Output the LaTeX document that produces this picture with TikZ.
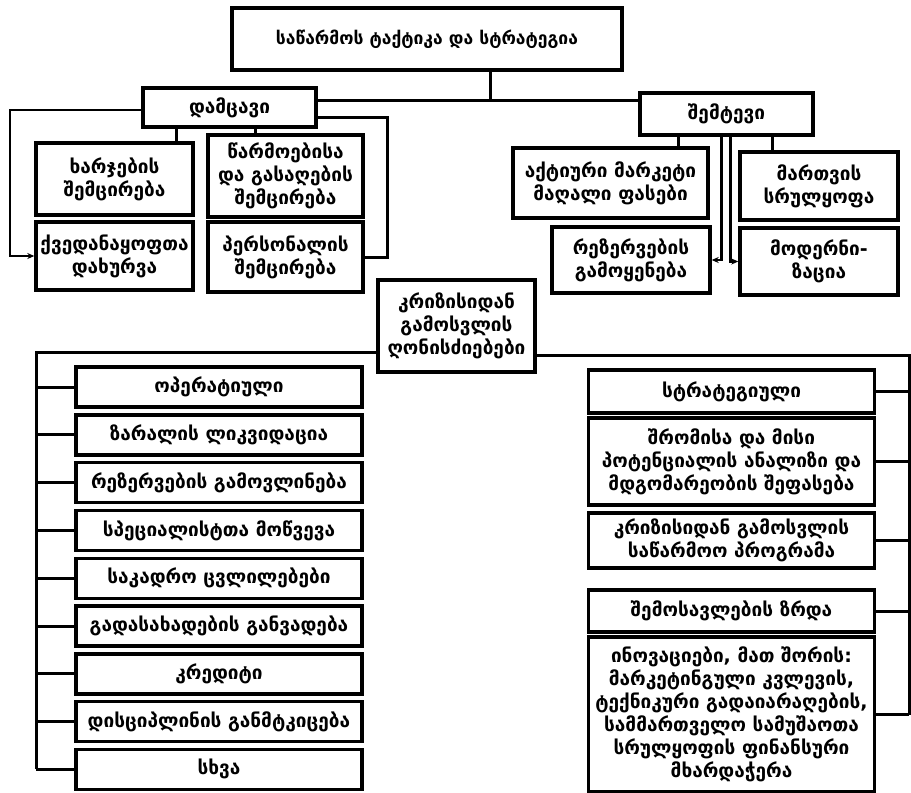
\documentclass[tikz,border=0pt]{standalone}
\usepackage{fontspec}
\setmainfont{DejaVu Sans}
\usetikzlibrary{arrows.meta}

\begin{document}
\begin{tikzpicture}[x=1pt,y=-1pt,
    box/.style={draw, line width=3.4pt, align=center, inner sep=0pt,
        font=\bfseries\fontsize{19}{23}\selectfont},
    listbox/.style={box, minimum width=286, minimum height=40},
    con/.style={line width=3pt},
    arr/.style={line width=2.4pt, -{Stealth[length=7pt,width=6pt]}}]
    \useasboundingbox (0,0) rectangle (911,793);

    % top level
    \node[box, minimum width=390, minimum height=62,
        font=\bfseries\fontsize{17.5}{22}\selectfont] (top) at (427,39) {საწარმოს ტაქტიკა და სტრატეგია};
    \node[box, minimum width=173, minimum height=39] (dam) at (229.5,107.5) {დამცავი};
    \node[box, minimum width=173, minimum height=42] (shem) at (726.5,114) {შემტევი};

    % defensive
    \node[box, minimum width=157, minimum height=72] (xarj) at (114.5,179) {ხარჯების\\შემცირება};
    \node[box, minimum width=155, minimum height=82] (warm) at (285.5,176) {წარმოებისა\\და გასაღების\\შემცირება};
    \node[box, minimum width=157, minimum height=68] (kved) at (114.5,256) {ქვედანაყოფთა\\დახურვა};
    \node[box, minimum width=155, minimum height=70] (pers) at (285.5,257) {პერსონალის\\შემცირება};

    % offensive
    \node[box, minimum width=195, minimum height=70] (aqt) at (610.5,183) {აქტიური მარკეტი\\მაღალი ფასები};
    \node[box, minimum width=158, minimum height=68] (mart) at (819,186) {მართვის\\სრულყოფა};
    \node[box, minimum width=158, minimum height=66] (rez) at (631,260) {რეზერვების\\გამოყენება};
    \node[box, minimum width=158, minimum height=67] (mod) at (819,261.5) {მოდერნი-\\ზაცია};

    % measures
    \node[box, minimum width=157, minimum height=92] (kriz) at (456.5,326) {კრიზისიდან\\გამოსვლის\\ღონისძიებები};

    \foreach \txt [count=\i] in {ოპერატიული, ზარალის ლიკვიდაცია, რეზერვების გამოვლინება,
        სპეციალისტთა მოწვევა, საკადრო ცვლილებები, გადასახადების განვადება,
        კრედიტი, დისციპლინის განმტკიცება, სხვა}
        \node[listbox] (op\i) at (219,{387+47.8*(\i-1)}) {\txt};

    \node[listbox, minimum height=43] (st1) at (731.5,391.5) {სტრატეგიული};
    \node[listbox, minimum height=87] (st2) at (731.5,461.5) {შრომისა და მისი\\პოტენციალის ანალიზი და\\მდგომარეობის შეფასება};
    \node[listbox, minimum height=55] (st3) at (731.5,540.5) {კრიზისიდან გამოსვლის\\საწარმოო პროგრამა};
    \node[listbox, minimum height=42] (st4) at (731.5,611) {შემოსავლების ზრდა};
    \node[listbox, minimum height=155] (st5) at (731.5,714.5) {ინოვაციები, მათ შორის:\\მარკეტინგული კვლევის,\\ტექნიკური გადაიარაღების,\\სამმართველო სამუშაოთა\\სრულყოფის ფინანსური\\მხარდაჭერა};

    % connectors
    \coordinate (j) at (490,100);
    \coordinate (dl) at (10,110);
    \coordinate (dr) at (387,117);
    \coordinate (lt) at (36,352);
    \coordinate (rt) at (909,355);

    \draw[con] (top.south -| j) -- (j);
    \draw[con] (j -| dam.east) -- (j -| shem.west);
    \draw[arr] (dl -| dam.west) -- (dl) |- (kved.west);
    \draw[con] (dr -| dam.east) -- (dr) |- (pers.east);
    \draw[con] ([xshift=-53pt]dam.south) -- ([xshift=-53pt]dam.south |- xarj.north);
    \draw[con] ([xshift=26pt]dam.south) -- ([xshift=26pt]dam.south |- warm.north);

    \draw[con] ([xshift=-48pt]shem.south) -- ([xshift=-48pt]shem.south |- aqt.north);
    \draw[con] ([xshift=46pt]shem.south) -- ([xshift=46pt]shem.south |- mart.north);
    \draw[arr] ([xshift=-5pt]shem.south) |- (rez.east);
    \draw[arr] ([xshift=4pt]shem.south) |- (mod.west);

    \draw[con] (lt -| kriz.west) -- (lt) -- (lt |- op9.west);
    \foreach \i in {1,...,9}
        \draw[con] (op\i.west) -- (op\i.west -| lt);

    \draw[con] (rt -| kriz.east) -- (rt) -- (rt |- st5.east);
    \foreach \i in {1,...,5}
        \draw[con] (st\i.east) -- (st\i.east -| rt);
\end{tikzpicture}
\end{document}
